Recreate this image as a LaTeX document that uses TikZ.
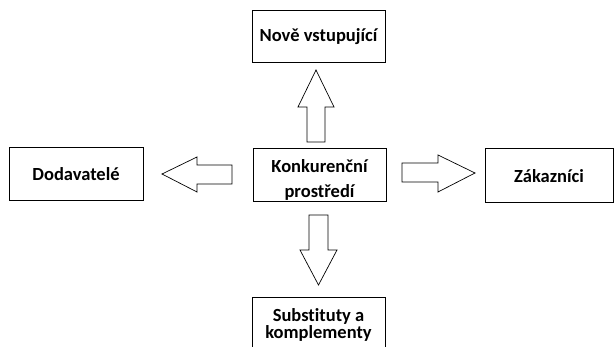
\documentclass[tikz,border=0pt]{standalone}
\usepackage{fontspec}
\setmainfont[Ligatures=NoCommon]{Carlito}
\begin{document}
\begin{tikzpicture}[x=1pt,y=-1pt,
  box/.style={draw=black,line width=1pt,fill=white,inner sep=0pt,font=\bfseries\fontsize{18.5}{20}\selectfont,align=center},
  barrow/.style={draw=black,line width=0.7pt,line join=miter}]
\useasboundingbox (0,0) rectangle (616,347);
\node[box,minimum width=133pt,minimum height=52pt] (top) at (318.5,37) {Nově vstupující};
\node[box,minimum width=133pt,minimum height=53pt] (mid) at (319.5,175.5) {};
\node[font=\bfseries\fontsize{18.5}{25}\selectfont,align=center,inner sep=0pt] (midt) at (319.5,179.5) {Konkurenční\\prostředí};
\node[box,minimum width=134pt,minimum height=53pt] (left) at (76,174.5) {Dodavatelé};
\node[box,minimum width=128pt,minimum height=54pt] (right) at (549,176) {Zákazníci};
\begin{scope}
\clip (0,0) rectangle (616,347);
\draw[line width=1pt,fill=white] (252,360) -- (252,298) -- (385,298) -- (385,360);
\node[font=\bfseries\fontsize{18.5}{17}\selectfont,align=center,inner sep=0pt] (bot) at (318.5,324.5) {Substituty a\\komplementy};
\end{scope}
% up arrow
\draw[barrow] (316,70) -- (334,107) -- (325,107) -- (325,142) -- (307,142) -- (307,107) -- (298,107) -- cycle;
% left arrow
\draw[barrow] (162,174) -- (197,157) -- (197,165) -- (232,165) -- (232,184) -- (197,184) -- (197,192) -- cycle;
% right arrow
\draw[barrow] (475,173) -- (438,155) -- (438,163) -- (402,163) -- (402,182) -- (438,182) -- (438,192) -- cycle;
% down arrow
\draw[barrow] (318.5,285) -- (337,250) -- (328,250) -- (328,215) -- (309,215) -- (309,250) -- (300,250) -- cycle;
\end{tikzpicture}
\end{document}
